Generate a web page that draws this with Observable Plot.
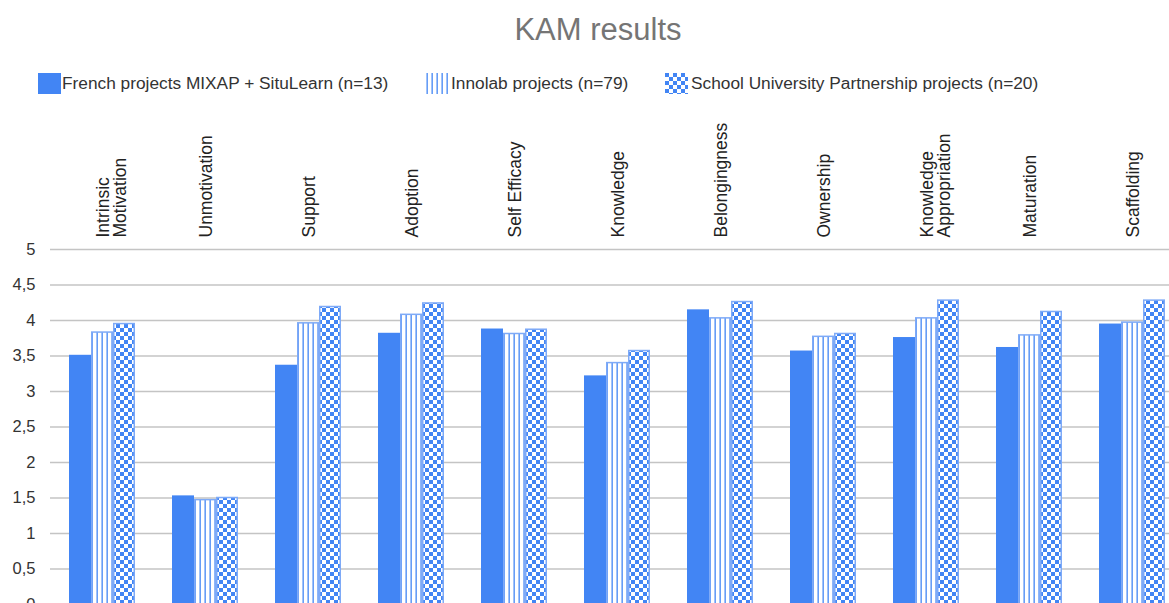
<!DOCTYPE html>
<html><head><meta charset="utf-8">
<script src="https://cdn.jsdelivr.net/npm/d3@7"></script>
<script src="https://cdn.jsdelivr.net/npm/@observablehq/plot@0.6"></script>
<style>
html,body{margin:0;padding:0;background:#fff;overflow:hidden;width:1169px;height:603px;}
#wrap{position:relative;width:1169px;height:603px;overflow:hidden;font-family:"Liberation Sans",Arial,sans-serif;}
#title{position:absolute;left:0;width:1196px;top:12px;text-align:center;font-size:31px;line-height:36px;color:#757575;}
.sw{position:absolute;top:73px;}
.lt{position:absolute;top:73px;font-size:17.3px;line-height:21px;color:#333;white-space:nowrap;}
#chart{position:absolute;left:0;top:0;width:1183px;}
#chart svg{max-width:none !important;}
</style>
</head><body>
<div id="wrap">
  <div id="chart"></div>
  <div id="title">KAM results</div>
  <div id="legend"></div>
</div>
<script>
const categories = ["Intrinsic\nMotivation","Unmotivation","Support","Adoption","Self Efficacy","Knowledge","Belongingness","Ownership","Knowledge\nAppropriation","Maturation","Scaffolding"];
const seriesNames = ["French projects MIXAP + SituLearn (n=13)","Innolab projects (n=79)","School University Partnership projects (n=20)"];
const frenchValues = [3.51,1.53,3.37,3.82,3.88,3.22,4.15,3.57,3.76,3.62,3.95];
const innolabValues = [3.83,1.47,3.96,4.08,3.81,3.40,4.03,3.77,4.03,3.79,3.97];
const supValues = [3.95,1.50,4.19,4.24,3.87,3.57,4.26,3.81,4.28,4.12,4.28];
const yTicks = [0,0.5,1,1.5,2,2.5,3,3.5,4,4.5,5];

const seriesValues = [frenchValues, innolabValues, supValues];
const data = categories.flatMap((c,i)=>seriesNames.map((s,j)=>({cat:c, series:s, value:seriesValues[j][i]})));
const fills = ["#4285f4","url(#kam-stripes)","url(#kam-checks)"];

const chart = Plot.plot({
  width: 1183, height: 604,
  marginTop: 249, marginBottom: 0, marginLeft: 50, marginRight: 0,
  style: {fontFamily: "'Liberation Sans', Arial, sans-serif", fontSize: "16px", color: "#333", background: "transparent", overflow: "visible", maxWidth: "none"},
  fx: {domain: categories, padding: 0, axis: null},
  x: {domain: seriesNames, paddingInner: 0, paddingOuter: 0.74, axis: null},
  y: {domain: [0,5], axis: null},
  color: {domain: seriesNames, range: fills},
  marks: [
    Plot.gridY(yTicks, {stroke: "#c4c4c4", strokeOpacity: 1, strokeWidth: 1.3}),
    Plot.barY(data, {fx: "cat", x: "series", y: "value", fill: "series"}),
    Plot.barY(data, {filter: d => d.series !== seriesNames[0], fx: "cat", x: "series", y: "value", fill: "none", stroke: "#7eaaf7", strokeWidth: 1.5, insetLeft: 0.75, insetRight: 0.75}),
    Plot.axisY(yTicks, {label: null, tickSize: 0, tickPadding: 15, tickFormat: d => String(d).replace(".", ","), fontSize: 16.5, line: true, stroke: "#444", fill: "#333"}),
    Plot.text(categories, {fx: d => d, text: d => d.split("\n")[0], frameAnchor: "top", rotate: -90, textAnchor: "start", dx: -5, dy: -12, fontSize: 17.5, fill: "#222"}),
    Plot.text(categories.filter(c => c.includes("\n")), {fx: d => d, text: d => d.split("\n")[1], frameAnchor: "top", rotate: -90, textAnchor: "start", dx: 12, dy: -12, fontSize: 17.5, fill: "#222"})
  ]
});
chart.style.maxWidth = "none";

const defs = d3.select(chart).insert("defs", ":first-child");
const st = defs.append("pattern").attr("id","kam-stripes").attr("patternUnits","userSpaceOnUse").attr("width",5).attr("height",10);
st.append("rect").attr("width",5).attr("height",10).attr("fill","#fff");
st.append("rect").attr("x",1.5).attr("width",1.3).attr("height",10).attr("fill","#4285f4");
const ck = defs.append("pattern").attr("id","kam-checks").attr("patternUnits","userSpaceOnUse").attr("width",8).attr("height",8);
ck.append("rect").attr("width",8).attr("height",8).attr("fill","#fff");
ck.append("rect").attr("width",4).attr("height",4).attr("fill","#4285f4");
ck.append("rect").attr("x",4).attr("y",4).attr("width",4).attr("height",4).attr("fill","#4285f4");
document.getElementById("chart").appendChild(chart);

// legend
const legendPos = [[38,62],[425,451],[665,691]];
const legend = d3.select("#legend");
seriesNames.forEach((s,i) => {
  const sw = legend.append("svg").attr("class","sw").attr("width",23).attr("height",21)
    .style("left", legendPos[i][0] + "px");
  sw.append("rect").attr("width",23).attr("height",21).attr("fill", fills[i]);
  legend.append("div").attr("class","lt").style("left", legendPos[i][1] + "px").text(s);
});
</script>
</body></html>
